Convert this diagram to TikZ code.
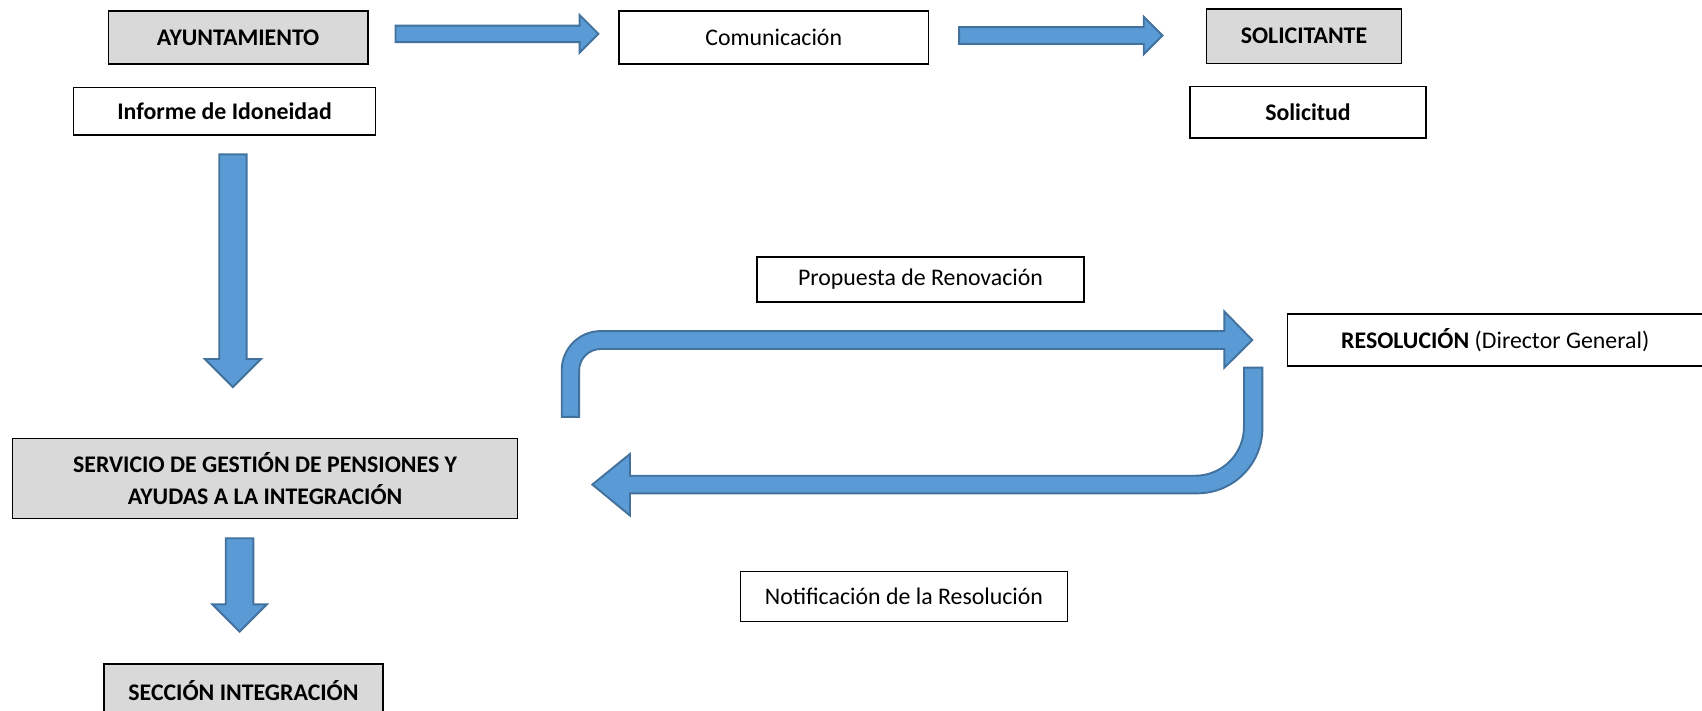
\documentclass[tikz,border=0pt]{standalone}
\usepackage{fontspec}
\setmainfont{Carlito}
\usetikzlibrary{shapes.arrows}

\definecolor{relleno}{HTML}{5B9BD5}
\definecolor{borde}{HTML}{41719C}
\definecolor{gris}{HTML}{D9D9D9}

\tikzset{
  caja/.style={draw=black, line width=0.8pt, fill=white, inner sep=0pt,
    font=\fontsize{12.5}{15}\selectfont},
  cajagris/.style={caja, fill=gris, font=\fontsize{12.5}{15}\selectfont\bfseries},
  flecha/.style={single arrow, draw=borde, fill=relleno, line width=1pt,
    inner xsep=0pt, anchor=tail},
  flechau/.style={draw=borde, fill=relleno, line width=1pt}
}

\begin{document}
\begin{tikzpicture}[x=0.02cm, y=0.02cm]
			\useasboundingbox (0,0) rectangle (1568,-655);
			\node [cajagris, minimum width=4.78cm, minimum height=0.98cm] (ayto) at (219.4,-34.4) {AYUNTAMIENTO};
			\node [caja, font=\fontsize{12.5}{15}\selectfont\bfseries, minimum width=5.56cm, minimum height=0.88cm] (informe) at (206.9,-102.4) {Informe de Idoneidad};
			\node [caja, minimum width=5.70cm, minimum height=0.98cm] (comunic) at (712.8,-34.7) {Comunicación};
			\node [cajagris, minimum width=3.60cm, minimum height=1.0cm] (solicitante) at (1201.3,-33.3) {SOLICITANTE};
			\node [caja, font=\fontsize{12.5}{15}\selectfont\bfseries, minimum width=4.35cm, minimum height=0.95cm] (solicitud) at (1205,-103.6) {Solicitud};
			\node [caja, minimum width=6.02cm, minimum height=0.82cm] (propuesta) at (848,-257.5) {Propuesta de Renovación};
			\node [caja, minimum width=7.66cm, minimum height=0.96cm] (resol) at (1377.5,-313.3) {\textbf{RESOLUCIÓN} (Director General)};
			\node [cajagris, align=center, font=\fontsize{12.5}{16.6}\selectfont\bfseries, minimum width=9.31cm, minimum height=1.48cm] (servicio) at (244.2,-440.9) {SERVICIO DE GESTIÓN DE PENSIONES Y\\AYUDAS A LA INTEGRACIÓN};
			\node [caja, minimum width=6.02cm, minimum height=0.92cm] (notif) at (832.8,-549.7) {Notificación de la Resolución};
			\node [cajagris, minimum width=5.15cm, minimum height=0.97cm] (seccion) at (224.3,-636) {SECCIÓN INTEGRACIÓN};
			\node [flecha, minimum height=3.74cm, inner ysep=0.135cm, single arrow head extend=0.195cm] (f1) at (363.5,-31.2) {};
			\node [flecha, minimum height=3.75cm, inner ysep=0.138cm, single arrow head extend=0.192cm] (f2) at (882.7,-32.7) {};
			\node [flecha, rotate=-90, minimum height=4.29cm, inner ysep=0.235cm, single arrow head extend=0.265cm] (f3) at (214.6,-141.3) {};
			\node [flecha, rotate=-90, minimum height=1.72cm, inner ysep=0.237cm, single arrow head extend=0.248cm] (f4) at (220.7,-495) {};
			\draw [flechau] (517.5,-384) -- (517.5,-341) arc [start angle=180, end angle=90, radius=36] -- (1128,-305) -- (1128,-287) -- (1153.7,-313.3) -- (1128,-338.7) -- (1128,-321.5) -- (553.5,-321.5) arc [start angle=90, end angle=180, radius=20] -- (533.5,-384) -- cycle;
			\draw [flechau] (1163,-338.7) -- (1163,-394.5) arc [start angle=0, end angle=-90, radius=60] -- (580.4,-454.5) -- (580.4,-475) -- (545.7,-446.4) -- (580.4,-418.2) -- (580.4,-438.3) -- (1101,-438.3) arc [start angle=-90, end angle=0, radius=45] -- (1146,-338.7) -- cycle;
		\end{tikzpicture}
\end{document}
